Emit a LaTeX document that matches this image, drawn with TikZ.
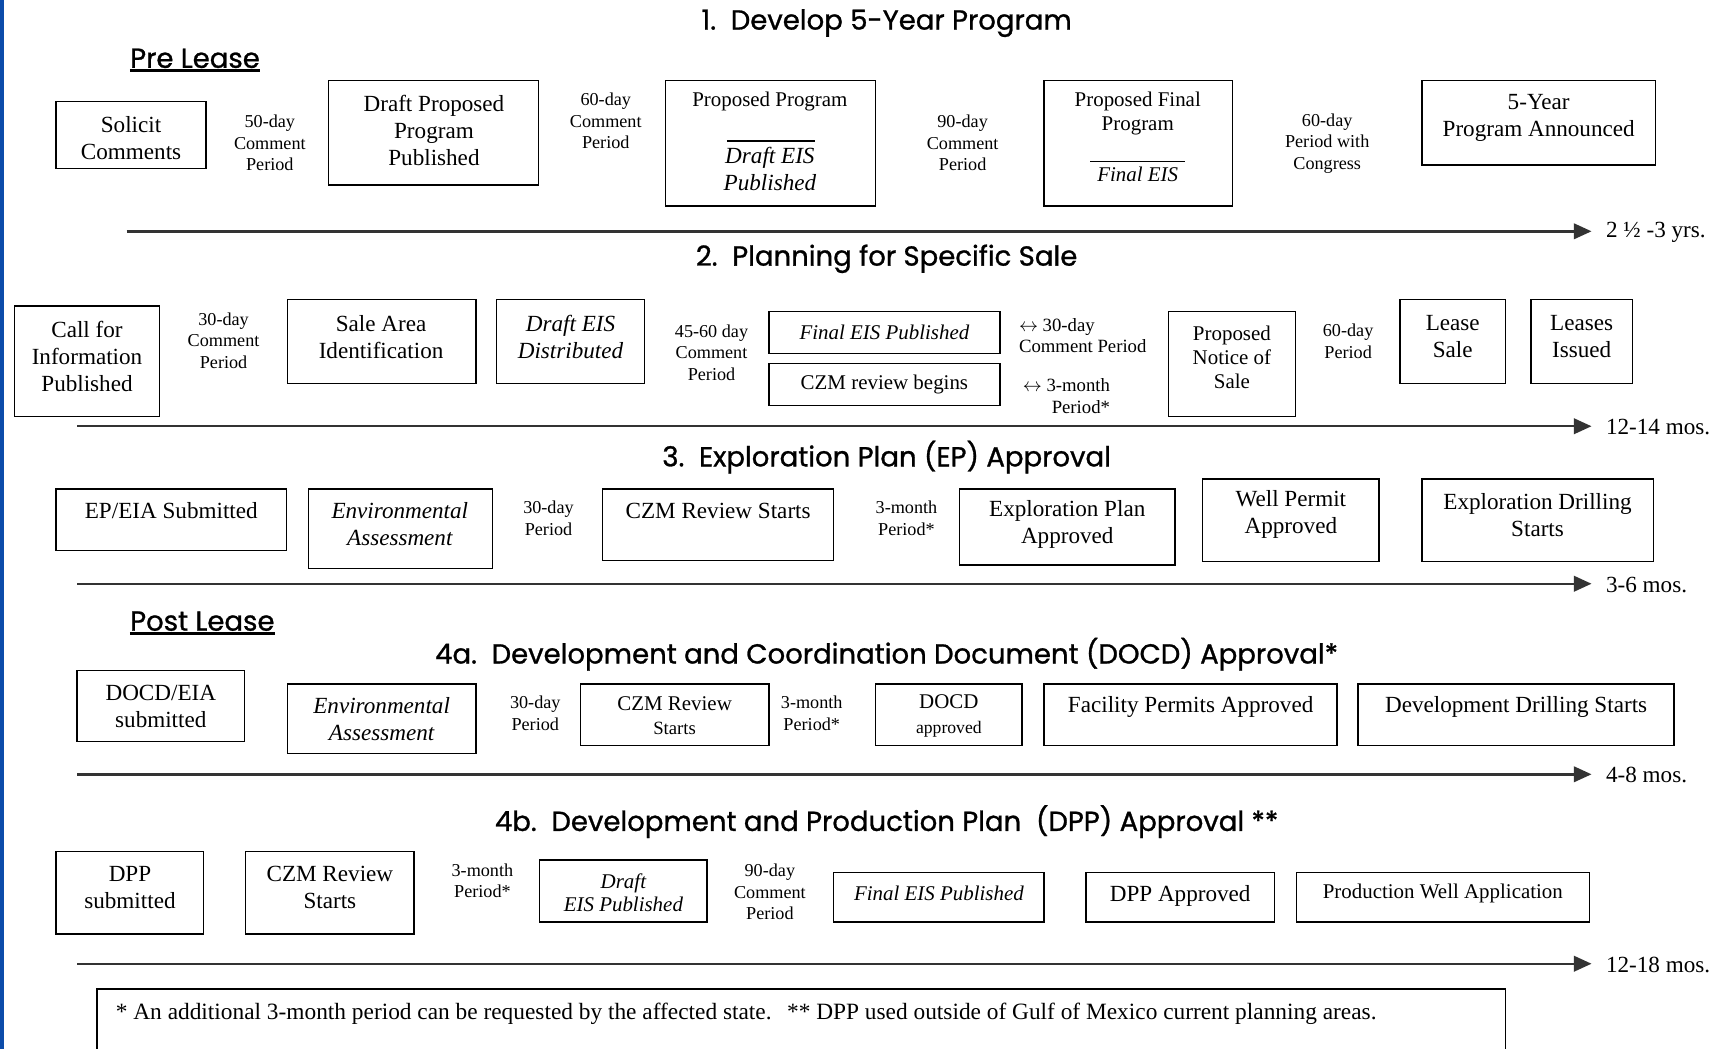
\documentclass[tikz,border=0pt]{standalone}
\usepackage{fontspec}
\setmainfont{Liberation Serif}
\newfontfamily\titlefont[FakeBold=1]{Poppins}
\usetikzlibrary{arrows.meta}
\definecolor{stripblue}{RGB}{12,76,170}
\tikzset{
 box/.style={draw=black, line width=1.3pt, inner sep=0pt},
 tx/.style={inner sep=0pt, align=center, font=\fontsize{21}{24.5}\selectfont},
 tm/.style={inner sep=0pt, align=center, font=\fontsize{19}{22}\selectfont},
 ts/.style={inner sep=0pt, align=center, font=\fontsize{16.5}{19.5}\selectfont},
 ttl/.style={inner sep=0pt, font=\titlefont\fontsize{25}{29}\selectfont},
 dur/.style={inner sep=0pt, anchor=west, font=\fontsize{21}{24}\selectfont},
 tl/.style={draw=black!80, line width=2.2pt, -{Triangle[length=16pt,width=14pt]}, shorten >=13pt},
 rule/.style={line width=1pt},
}
\newcommand{\mybox}[5]{\node[box, minimum width={#4-#2}, minimum height={#5-#3}] (#1) at ({(#2+#4)/2},{(#3+#5)/2}) {};}
\newcommand{\lr}{$\leftrightarrow$}
\begin{document}
\begin{tikzpicture}[x=1pt, y=-1pt]
\clip (0,0) rectangle (1568,952);
\fill[white] (0,0) rectangle (1568,952);
\fill[stripblue] (0,0) rectangle (3.8,952);

% titles
\node[ttl] (t1) at (805,21) {1.\ \ Develop 5-Year Program};
\node[ttl] (t2) at (805,235) {2.\ \ Planning for Specific Sale};
\node[ttl] (t3) at (805,415) {3.\ \ Exploration Plan (EP) Approval};
\node[ttl] (t4a) at (805,594) {4a.\ \ Development and Coordination Document (DOCD) Approval*};
\node[ttl] (t4b) at (805,746) {4b.\ \ Development and Production Plan\ \ (DPP) Approval **};
\node[ttl, anchor=west] (pre) at (118,53) {Pre Lease};
\draw[line width=2.2pt] (118,64) -- (pre.east |- 0,64);
\node[ttl, anchor=west] (post) at (118,564) {Post Lease};
\draw[line width=2.2pt] (118,575) -- (post.east |- 0,575);

% row 1
\mybox{b1a}{51}{92}{187}{153}
\node[tx] (b1at) at (119,125) {Solicit\\Comments};
\node[ts] (l1a) at (245,130) {50-day\\Comment\\Period};
\mybox{b1b}{298}{73}{489}{168}
\node[tx] (b1bt) at (394,118.5) {Draft Proposed\\Program\\Published};
\node[ts] (l1b) at (550,110) {60-day\\Comment\\Period};
\mybox{b1c}{604}{73}{795}{187}
\node[tm] (b1ct) at (699,92) {Proposed Program};
\draw[rule] (660,128) -- (740,128);
\node[tx, font=\fontsize{21}{24.5}\selectfont\itshape] (b1cs) at (699,153) {Draft EIS\\Published};
\node[ts] (l1c) at (874,130) {90-day\\Comment\\Period};
\mybox{b1d}{948}{73}{1119}{187}
\node[tm] (b1dt) at (1033,103) {Proposed Final\\Program};
\draw[rule] (990,147) -- (1076,147);
\node[tm, font=\fontsize{19}{22}\selectfont\itshape] (b1ds) at (1033,158) {Final EIS};
\node[ts] (l1d) at (1205,130) {60-day\\Period with\\Congress};
\mybox{b1e}{1291}{73}{1503}{150}
\node[tx] (b1et) at (1397,107) {5-Year\\Program Announced};
\coordinate (a1s) at (115,210);
\node[dur] (a1l) at (1458,211) {2 ½ -3 yrs.};
\draw[tl] (a1s) -- (a1s -| a1l.west);

% row 2
\mybox{b2a}{13}{278}{145}{378}
\node[tx] (b2at) at (79,324) {Call for\\Information\\Published};
\node[ts] (l2a) at (203,309) {30-day\\Comment\\Period};
\mybox{b2b}{261}{272}{432}{348}
\node[tx] (b2bt) at (346,306) {Sale Area\\Identification};
\mybox{b2c}{451}{272}{585}{348}
\node[tx, font=\fontsize{21}{24.5}\selectfont\itshape] (b2ct) at (518,306) {Draft EIS\\Distributed};
\node[ts] (l2b) at (646,320) {45-60 day\\Comment\\Period};
\mybox{b2d}{698}{283}{908}{321}
\node[tm, font=\fontsize{19}{22}\selectfont\itshape] (b2dt) at (803,302) {Final EIS Published};
\mybox{b2e}{698}{330}{908}{368}
\node[tm] (b2et) at (803,349) {CZM review begins};
\node[tm, font=\fontsize{17}{19.5}\selectfont, align=left, anchor=west] (l2c) at (925,304.5) {\lr\ 30-day\\Comment Period};
\node[tm, font=\fontsize{17}{19.5}\selectfont, align=right, anchor=east] (l2d) at (1008,359.5) {\lr\ 3-month\\Period*};
\mybox{b2f}{1061}{283}{1176}{378}
\node[tm, font=\fontsize{19}{21.5}\selectfont] (b2ft) at (1118.5,324.5) {Proposed\\Notice of\\Sale};
\node[ts] (l2e) at (1224,310) {60-day\\Period};
\mybox{b2g}{1271}{272}{1367}{348}
\node[tx] (b2gt) at (1319,306) {Lease\\Sale};
\mybox{b2h}{1390}{272}{1482}{348}
\node[tx] (b2ht) at (1436,306) {Leases\\Issued};
\coordinate (a2s) at (70,387);
\node[dur] (a2l) at (1458,388) {12-14 mos.};
\draw[tl] (a2s) -- (a2s -| a2l.west);

% row 3
\mybox{b3a}{51}{444}{260}{500}
\node[tx] (b3at) at (155.5,464) {EP/EIA Submitted};
\mybox{b3b}{280}{444}{447}{516}
\node[tx, font=\fontsize{21}{24.5}\selectfont\itshape] (b3bt) at (363,476) {Environmental\\Assessment};
\node[ts] (l3a) at (498,470.5) {30-day\\Period};
\mybox{b3c}{547}{444}{757}{509}
\node[tx] (b3ct) at (652,464) {CZM Review Starts};
\node[ts] (l3b) at (823,470.5) {3-month\\Period*};
\mybox{b3d}{871}{444}{1067}{513}
\node[tx] (b3dt) at (969,476) {Exploration Plan\\Approved};
\mybox{b3e}{1092}{435}{1252}{510}
\node[tx] (b3et) at (1172,467.5) {Well Permit\\Approved};
\mybox{b3f}{1291}{435}{1501}{510}
\node[tx] (b3ft) at (1396,467.5) {Exploration Drilling\\Starts};
\coordinate (a3s) at (70,530);
\node[dur] (a3l) at (1458,531) {3-6 mos.};
\draw[tl] (a3s) -- (a3s -| a3l.west);

% row 4a
\mybox{b4a}{70}{609}{222}{673}
\node[tx] (b4at) at (146,641.5) {DOCD/EIA\\submitted};
\mybox{b4b}{261}{621}{432}{684}
\node[tx, font=\fontsize{21}{24.5}\selectfont\itshape] (b4bt) at (346.5,652.5) {Environmental\\Assessment};
\node[ts] (l4a) at (486,647.5) {30-day\\Period};
\mybox{b4c}{527}{621}{698}{677}
\node[tm] (b4ct) at (612.5,650) {CZM Review\\{\fontsize{17}{20}\selectfont Starts}};
\node[ts] (l4b) at (737,647.5) {3-month\\Period*};
\mybox{b4d}{795}{621}{928}{677}
\node[tm] (b4dt) at (861.5,650) {DOCD\\{\fontsize{16}{20}\selectfont approved}};
\mybox{b4e}{948}{621}{1214}{677}
\node[tx] (b4et) at (1081,642) {Facility Permits Approved};
\mybox{b4f}{1233}{621}{1520}{677}
\node[tx] (b4ft) at (1376.5,642) {Development Drilling Starts};
\coordinate (a4s) at (70,703);
\node[dur] (a4l) at (1458,704) {4-8 mos.};
\draw[tl] (a4s) -- (a4s -| a4l.west);

% row 4b
\mybox{b5a}{51}{773}{185}{848}
\node[tx] (b5at) at (118,805.5) {DPP\\submitted};
\mybox{b5b}{223}{773}{376}{848}
\node[tx] (b5bt) at (299.5,805.5) {CZM Review\\Starts};
\node[ts] (l5a) at (438,799.5) {3-month\\Period*};
\mybox{b5c}{490}{781}{642}{837}
\node[tm, font=\fontsize{19}{21}\selectfont\itshape] (b5ct) at (566,810.5) {Draft\\EIS Published};
\node[ts] (l5b) at (699,810) {90-day\\Comment\\Period};
\mybox{b5d}{757}{792}{948}{837}
\node[tm, font=\fontsize{19}{22}\selectfont\itshape] (b5dt) at (852.5,811) {Final EIS Published};
\mybox{b5e}{986}{792}{1157}{837}
\node[tx] (b5et) at (1071.5,813) {DPP Approved};
\mybox{b5f}{1177}{792}{1443}{837}
\node[tm] (b5ft) at (1310,811) {Production Well Application};
\coordinate (a5s) at (70,875);
\node[dur] (a5l) at (1458,876) {12-18 mos.};
\draw[tl] (a5s) -- (a5s -| a5l.west);

% footnote
\mybox{fn}{88}{898}{1367}{970}
\node[tm, anchor=west, font=\fontsize{21.2}{24}\selectfont] (fnt) at (105,920) {* An additional 3-month period can be requested by the affected state.\hspace{14pt}** DPP used outside of Gulf of Mexico current planning areas.};
\end{tikzpicture}
\end{document}
